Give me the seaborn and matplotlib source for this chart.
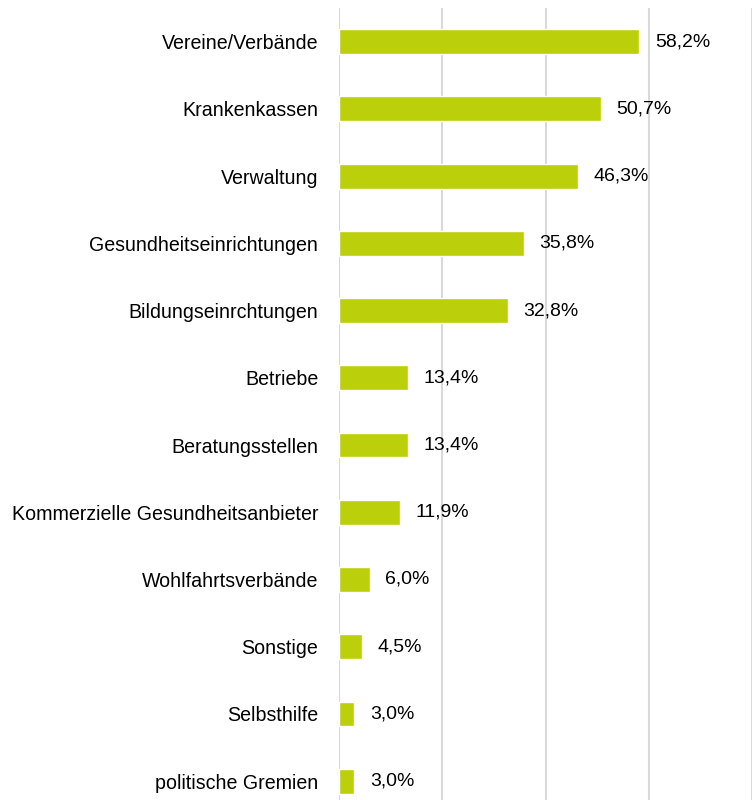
import matplotlib
matplotlib.use("Agg")
import matplotlib.pyplot as plt
import seaborn as sns
import pandas as pd
from matplotlib.transforms import ScaledTranslation

categories = ["Vereine/Verbände", "Krankenkassen", "Verwaltung", "Gesundheitseinrichtungen",
              "Bildungseinrchtungen", "Betriebe", "Beratungsstellen",
              "Kommerzielle Gesundheitsanbieter", "Wohlfahrtsverbände", "Sonstige",
              "Selbsthilfe", "politische Gremien"]
values = [58.2, 50.7, 46.3, 35.8, 32.8, 13.4, 13.4, 11.9, 6.0, 4.5, 3.0, 3.0]

df = pd.DataFrame({"cat": categories, "val": values})

sns.set_theme(style="white")
plt.rcParams['font.family'] = ['Liberation Sans', 'DejaVu Sans']

fig = plt.figure(figsize=(7.55, 8.0), dpi=100)
ax = fig.add_axes([339/755, 0.0, 413/755, 1 - 8/800])

sns.barplot(data=df, x="val", y="cat", color="#BBCF0A", width=0.37, saturation=1,
            ax=ax, zorder=3)

ax.set_xlim(0, 80)
ax.set_ylim(11.28, -0.5)
ax.set_xticks([0, 20, 40, 60, 80])
ax.xaxis.grid(True, color="#D9D9D9", linewidth=1.5, zorder=0)
ax.yaxis.grid(False)
ax.set_axisbelow(True)
for s in ax.spines.values():
    s.set_visible(False)
ax.set_xlabel("")
ax.set_ylabel("")
ax.tick_params(axis="x", length=0, labelbottom=False)
ax.tick_params(axis="y", length=0, pad=15, labelsize=14.1, labelcolor="#000000")

labels = [f"{v:.1f}%".replace(".", ",") for v in values]
texts = ax.bar_label(ax.containers[0], labels=labels, padding=11, fontsize=14, color="#000000")
shift = ScaledTranslation(0, -2/100, fig.dpi_scale_trans)
for t in texts:
    t.set_transform(t.get_transform() + shift)

fig.savefig("out.png", dpi=100)
